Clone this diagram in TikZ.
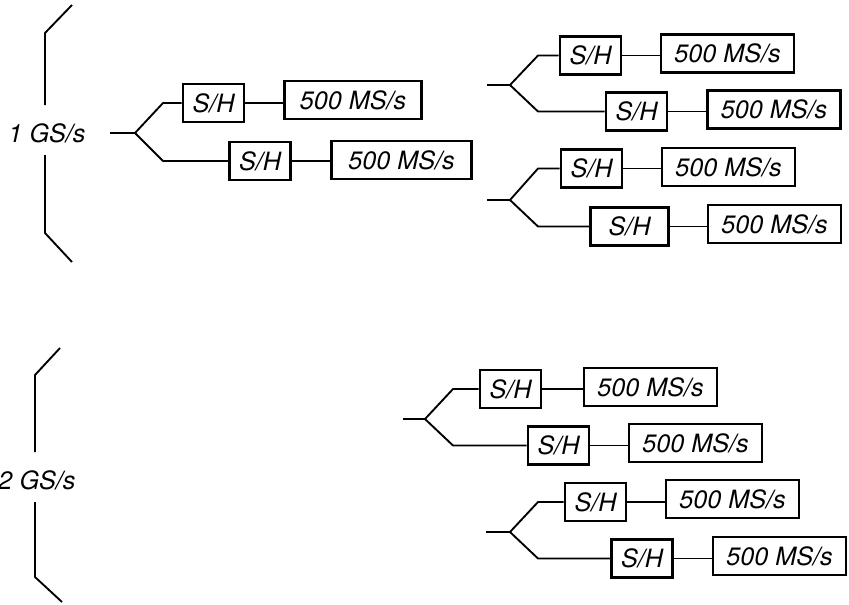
\documentclass[tikz,border=0pt]{standalone}
\usepackage{fontspec}
\setmainfont{TeX Gyre Heros}
\usetikzlibrary{calc}

\begin{document}
\begin{tikzpicture}[x=0.03cm, y=-0.03cm,
    shbox/.style={rectangle, draw=black, line width=2.2pt, minimum width=1.83cm, minimum height=1.14cm, inner sep=0pt, font=\fontsize{21.5}{25}\selectfont\itshape},
    ratebox/.style={rectangle, draw=black, line width=2.2pt, minimum width=3.99cm, minimum height=1.14cm, inner sep=0pt, font=\fontsize{21.5}{25}\selectfont\itshape},
    rate/.style={font=\fontsize{21.5}{25}\selectfont\itshape, inner sep=0pt},
    wire/.style={line width=1.6pt, draw=black, line join=round}
]
    \useasboundingbox (0, 0) rectangle (849, 604);

    % Nodes: 1 GS/s
    \node[rate] (gs1) at (47, 133) {1 GS/s};
    \coordinate (in1) at (110, 133);
    \coordinate (br1) at (135, 133);
    \node[shbox] (sh11) at (213.5, 103) {S/H};
    \node[ratebox, minimum width=4.11cm] (bx11) at (353, 100) {500 MS/s};
    \node[shbox] (sh12) at (260, 161) {S/H};
    \node[ratebox, minimum width=4.2cm] (bx12) at (401.5, 160) {500 MS/s};

    \coordinate (inA) at (487, 85);
    \coordinate (brA) at (510, 85);
    \node[shbox] (shA1) at (590.5, 55.5) {S/H};
    \node[ratebox] (bxA1) at (727.5, 53.5) {500 MS/s};
    \node[shbox] (shA2) at (636.5, 111.5) {S/H};
    \node[ratebox] (bxA2) at (774, 109.5) {500 MS/s};

    \coordinate (inB) at (487, 200);
    \coordinate (brB) at (510, 200);
    \node[shbox] (shB1) at (591.5, 168.5) {S/H};
    \node[ratebox] (bxB1) at (728.5, 167) {500 MS/s};
    \node[shbox, minimum width=2.34cm] (shB2) at (629.5, 226.5) {S/H};
    \node[ratebox] (bxB2) at (774.5, 224) {500 MS/s};

    % Nodes: 2 GS/s
    \node[rate] (gs2) at (37, 480) {2 GS/s};
    \coordinate (inC) at (403, 419);
    \coordinate (brC) at (425, 419);
    \node[shbox] (shC1) at (510.5, 389) {S/H};
    \node[ratebox] (bxC1) at (650.5, 387) {500 MS/s};
    \node[shbox] (shC2) at (558.5, 445.5) {S/H};
    \node[ratebox] (bxC2) at (695.5, 443) {500 MS/s};

    \coordinate (inD) at (486, 532);
    \coordinate (brD) at (510, 532);
    \node[shbox] (shD1) at (595.5, 502) {S/H};
    \node[ratebox] (bxD1) at (732.5, 499) {500 MS/s};
    \node[shbox] (shD2) at (642, 558.5) {S/H};
    \node[ratebox] (bxD2) at (779.5, 556) {500 MS/s};

    % Braces
    \draw[wire] (72, 5) -- (45, 33) -- (45, 105);
    \draw[wire] (45, 155) -- (45, 233) -- (72, 262);
    \draw[wire] (60, 348) -- (35, 375) -- (35, 452);
    \draw[wire] (35, 502) -- (35, 577) -- (62, 602);

    % Lines
    \draw[wire] (in1) -- (br1);
    \draw[wire] (br1) -- ($(br1 |- sh11)+(28,0)$) -- (sh11);
    \draw[wire] (br1) -- ($(br1 |- sh12)+(28,0)$) -- (sh12);
    \foreach \g in {A,B,C,D} {
        \draw[wire] (in\g) -- (br\g);
        \draw[wire] (br\g) -- ($(br\g |- sh\g1)+(28,0)$) -- (sh\g1);
        \draw[wire] (br\g) -- ($(br\g |- sh\g2)+(28,0)$) -- (sh\g2);
    }
    \foreach \s in {11,12,A1,A2,B1,B2,C1,C2,D1,D2}
        \draw[wire] (sh\s.east) -- (sh\s.east -| bx\s.west);
\end{tikzpicture}
\end{document}
